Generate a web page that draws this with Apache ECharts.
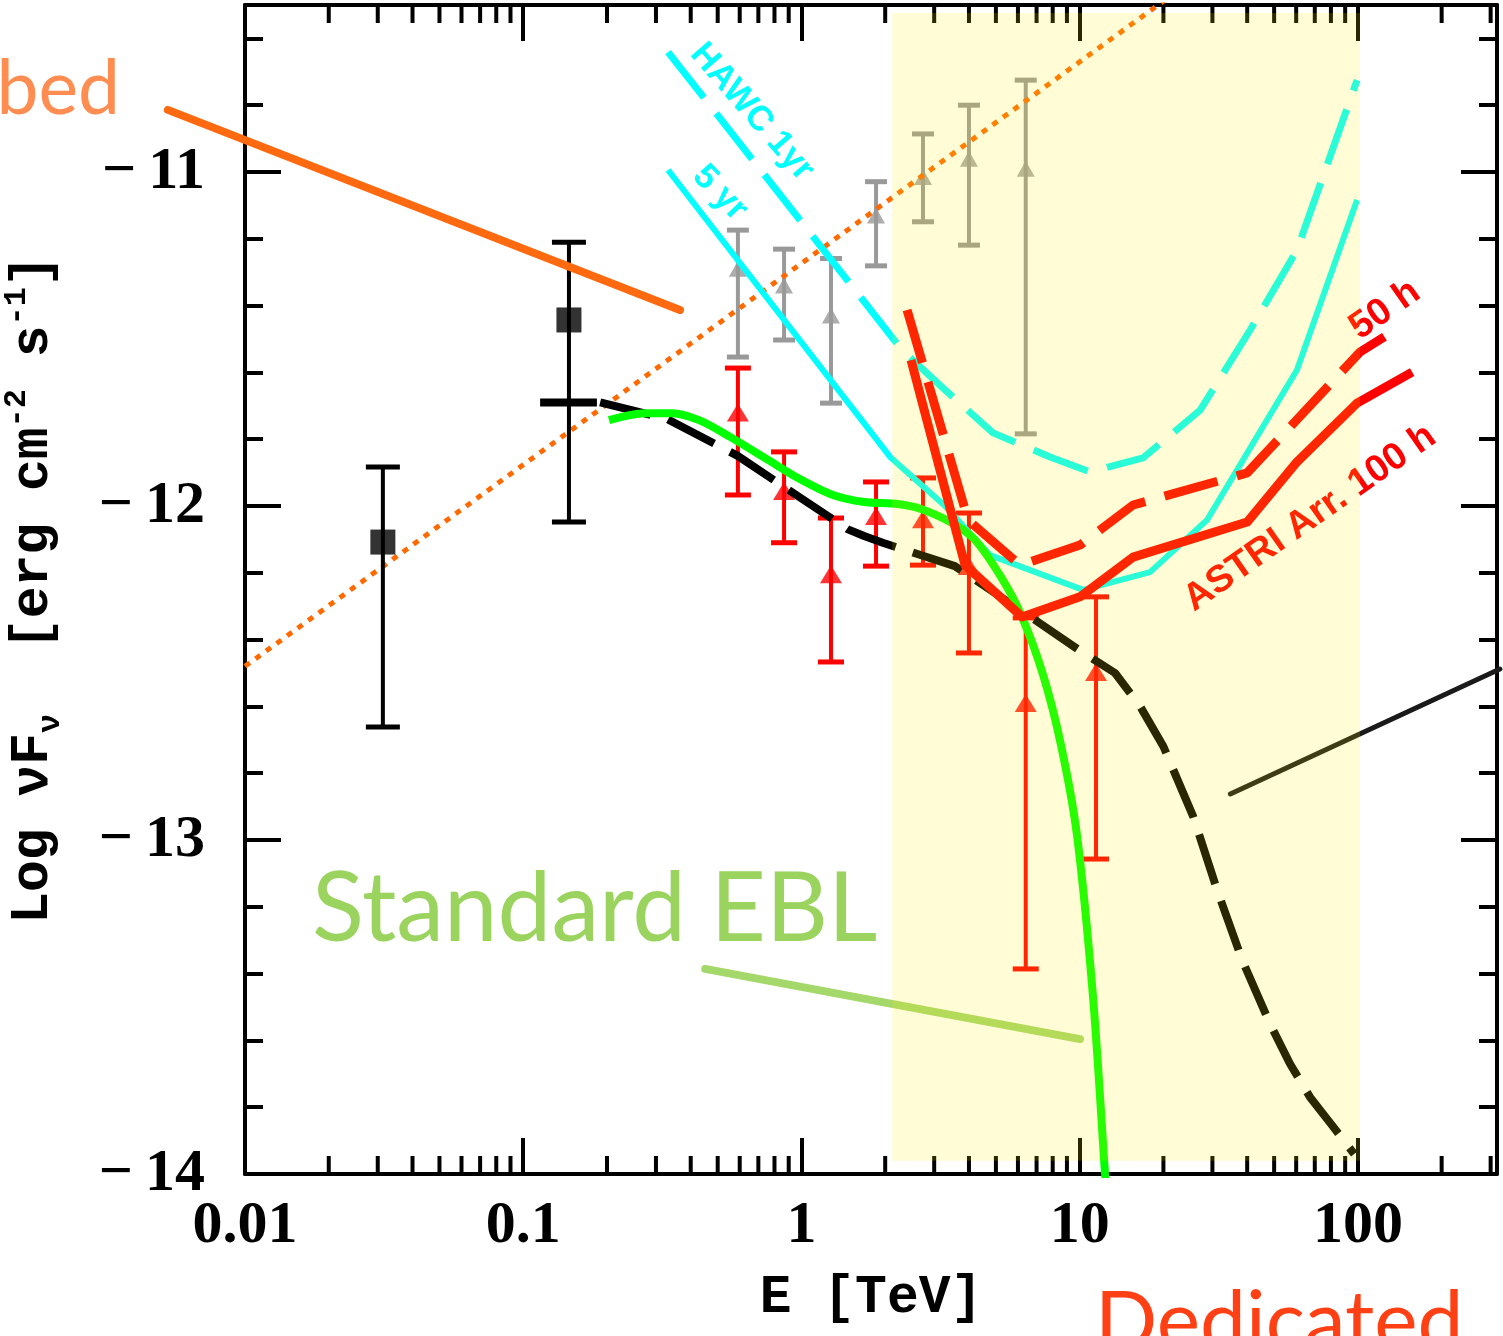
<!DOCTYPE html>
<html><head><meta charset="utf-8">
<script src="https://cdn.jsdelivr.net/npm/echarts@6/dist/echarts.min.js"></script>
<style>html,body{margin:0;padding:0;background:#fff}#c{width:1503px;height:1336px}</style>
</head><body><div id="c"></div>
<script>
// ---------- axis ranges / ticks ----------
const xMin = 0.01, xMax = 316.2278;
const yMin = -14, yMax = -10.5;
const xTickLabels = ['0.01', '0.1', '1', '10', '100'];
const xMinorMultipliers = [2, 3, 4, 5, 6, 7, 8, 9];
const xDecades = [0.01, 0.1, 1, 10, 100];

// ---------- black squares (low-energy points) ----------
const blackE  = [0.0313, 0.146];
const blackY  = [-12.108, -11.443];
const blackLo = [-12.662, -12.048];
const blackHi = [-11.883, -11.210];
const blackBinE = [0.115, 0.184];   // horizontal bar
const blackBinY = [-11.69];

// ---------- grey triangles ----------
const greyE  = [0.591, 0.866, 1.277, 1.854, 2.735, 4.0, 6.4];
const greyY  = [-11.29, -11.34, -11.43, -11.13, -11.015, -10.96, -10.99];
const greyLo = [-11.554, -11.503, -11.692, -11.281, -11.149, -11.219, -11.784];
const greyHi = [-11.174, -11.231, -11.259, -11.029, -10.886, -10.800, -10.725];

// ---------- red triangles ----------
const redE  = [0.591, 0.866, 1.277, 1.854, 2.735, 4.0, 6.4, 11.45];
const redY  = [-11.72, -11.955, -12.204, -12.03, -12.04, -12.18, -12.59, -12.497];
const redLo = [-11.967, -12.11, -12.467, -12.18, -12.177, -12.44, -13.386, -13.057];
const redHi = [-11.587, -11.838, -12.036, -11.928, -11.916, -12.021, -12.335, -12.272];

// ---------- model curves ----------
const modelE = [0.189, 0.33, 0.59, 0.97, 1.47, 1.68, 1.96, 3.56, 6.6, 9.9, 13.4, 16.5, 20, 25.6, 31.2, 38.4, 48.3, 57, 67.3, 80, 97];
const modelY = [-11.69, -11.74, -11.85, -11.97, -12.07, -12.09, -12.11, -12.18, -12.33, -12.43, -12.50, -12.60, -12.72, -12.93, -13.15, -13.36, -13.55, -13.67, -13.77, -13.85, -13.94];

const eblE = [0.2034, 0.274, 0.343, 0.4285, 0.554, 0.759, 0.972, 1.299, 1.679, 2.224, 2.69, 3.48, 4.21, 5.22, 6.16, 7.39, 8.57, 9.79, 11.17, 12.34, 12.6];
const eblY = [-11.743, -11.722, -11.722, -11.743, -11.793, -11.862, -11.916, -11.967, -11.988, -11.994, -12.009, -12.051, -12.102, -12.213, -12.326, -12.506, -12.716, -12.988, -13.47, -14.0, -14.1];

const orangeE = [0.01, 25];
const orangeY = [-12.48, -10.43];

// ---------- sensitivity curves ----------
const hawc5E = [0.3315, 2.083, 3.254, 4.76, 10.29, 17.9, 28.7, 60.4, 99.3];
const hawc5Y = [-10.994, -11.853, -11.997, -12.147, -12.251, -12.198, -12.042, -11.593, -11.084];
const hawc1E = [0.3315, 2.30, 3.23, 4.88, 7.83, 10.9, 16.9, 27.1, 41.0, 60.4, 99.3];
const hawc1Y = [-10.641, -11.533, -11.647, -11.781, -11.853, -11.898, -11.856, -11.713, -11.473, -11.234, -10.725];
const astri100E = [2.477, 3.873, 6.21, 10.03, 15.56, 40.0, 60.4, 99.3, 156.7];
const astri100Y = [-11.563, -12.177, -12.332, -12.272, -12.153, -12.048, -11.868, -11.692, -11.599];
const astri50E = [2.397, 3.97, 6.11, 10.03, 15.56, 40.0, 101.8, 132.7];
const astri50Y = [-11.413, -12.042, -12.177, -12.117, -11.997, -11.901, -11.539, -11.479];

// ---------- shaded band & pointer strokes ----------
const bandE = [2.12, 101.8];
const bandY = [-10.524, -13.96];
const ptrOrangeE = [0.00528, 0.366], ptrOrangeY = [-10.814, -11.413];
const ptrGreenE  = [0.451, 10.03],  ptrGreenY  = [-13.386, -13.596];
const ptrDarkE   = [34.8, 324],     ptrDarkY   = [-12.862, -12.488];

// ---------- build ----------
const zip = (a, b) => a.map((v, i) => [v, b[i]]);
const minorTicks = [];
xDecades.forEach(d => xMinorMultipliers.forEach(m => { const v = d * m; if (v < xMax) minorTicks.push([v, yMin]); }));

function errRender(color, capW, lw, capLw) {
  return function (params, api) {
    const x = api.value(0), lo = api.value(1), hi = api.value(2);
    const p1 = api.coord([x, lo]), p2 = api.coord([x, hi]);
    return { type: 'group', children: [
      { type: 'line', shape: { x1: p1[0], y1: p1[1], x2: p2[0], y2: p2[1] }, style: { stroke: color, lineWidth: lw } },
      { type: 'line', shape: { x1: p1[0] - capW / 2, y1: p1[1], x2: p1[0] + capW / 2, y2: p1[1] }, style: { stroke: color, lineWidth: capLw } },
      { type: 'line', shape: { x1: p2[0] - capW / 2, y1: p2[1], x2: p2[0] + capW / 2, y2: p2[1] }, style: { stroke: color, lineWidth: capLw } }
    ]};
  };
}
function strokeSeries(E, Y, color, width, z) {
  return {
    type: 'custom', z: z, silent: true, clip: false,
    data: [[E[0], Y[0], E[1], Y[1]]], encode: { x: [0, 2], y: [1, 3] },
    renderItem: (params, api) => {
      const a = api.coord([api.value(0), api.value(1)]), b = api.coord([api.value(2), api.value(3)]);
      return { type: 'line', shape: { x1: a[0], y1: a[1], x2: b[0], y2: b[1] }, style: { stroke: color, lineWidth: width, lineCap: 'round' } };
    }
  };
}

const monoFam = '"Liberation Mono", "DejaVu Sans Mono", monospace';

const baseXAxis = {
  type: 'log', logBase: 10, min: xMin, max: xMax,
  axisLine: { show: true, onZero: false, lineStyle: { color: '#000', width: 4 } },
  axisTick: { show: true, inside: true, length: 36, lineStyle: { color: '#000', width: 4 } },
  splitLine: { show: false }
};
const baseYAxis = {
  type: 'value', min: yMin, max: yMax, interval: 1,
  axisLine: { show: true, onZero: false, lineStyle: { color: '#000', width: 4 } },
  axisTick: { show: true, inside: true, length: 36, lineStyle: { color: '#000', width: 4 } },
  minorTick: { show: true, splitNumber: 5, length: 18, lineStyle: { color: '#000', width: 4 } },
  splitLine: { show: false }
};

const option = {
  animation: false,
  backgroundColor: '#fff',
  grid: { left: 245, right: 6, top: 5, bottom: 162, containLabel: false, outerBoundsMode: 'none' },
  xAxis: [
    Object.assign({}, baseXAxis, {
      position: 'bottom',
      axisLabel: { show: true, margin: 22, color: '#000', fontFamily: '"Liberation Serif"', fontWeight: 'bold', fontSize: 60,
        showMaxLabel: false,
        formatter: v => { const i = xDecades.findIndex(d => Math.abs(Math.log10(d) - Math.log10(v)) < 1e-6); return i >= 0 ? xTickLabels[i] : ''; } },
      name: 'E [TeV]', nameLocation: 'middle', nameGap: 98,
      nameTextStyle: { fontFamily: monoFam, fontWeight: 'bold', fontSize: 53, color: '#000', verticalAlign: 'top' }
    }),
    Object.assign({}, baseXAxis, { position: 'top', axisLabel: { show: false } })
  ],
  yAxis: [
    Object.assign({}, baseYAxis, {
      position: 'left',
      axisLabel: { show: true, margin: 40, color: '#000', fontFamily: '"Liberation Serif"', fontWeight: 'bold', fontSize: 60,
        showMaxLabel: false,
        formatter: v => (Math.abs(v - Math.round(v)) < 1e-6 ? '\u2212\u2009' + Math.abs(Math.round(v)) : '') },
      name: '{a|Log }{a|\u03bdF}{sub|\u03bd}{a|  [erg cm}{sup|-2}{a| s}{sup|-1}{a|]}',
      nameLocation: 'middle', nameGap: 178, nameRotate: 90,
      nameTextStyle: {
        color: '#000',
        rich: {
          a: { fontFamily: monoFam, fontWeight: 'bold', fontSize: 53, lineHeight: 66, color: '#000' },
          sup: { fontFamily: monoFam, fontWeight: 'bold', fontSize: 32, lineHeight: 66, verticalAlign: 'top', padding: [0, 0, 22, 0], color: '#000' },
          sub: { fontFamily: monoFam, fontWeight: 'bold', fontSize: 32, lineHeight: 66, verticalAlign: 'bottom', padding: [14, 0, 0, 0], color: '#000' }
        }
      }
    }),
    Object.assign({}, baseYAxis, { position: 'right', axisLabel: { show: false } })
  ],
  graphic: [
    { type: 'text', x: 120, y: 90, z: 5, style: { text: 'Absorbed', font: '75px Lato', fill: '#FF8C50', align: 'right', verticalAlign: 'middle', textAlign: 'right', textVerticalAlign: 'middle' } },
    { type: 'text', x: 312, y: 910, z: 5, style: { text: 'Standard EBL', font: '96px Lato', fill: '#9BD35F', align: 'left', verticalAlign: 'middle', textAlign: 'left', textVerticalAlign: 'middle' } },
    { type: 'text', x: 1095, y: 1282, z: 5, style: { text: 'Dedicated', font: '82px Lato', fill: '#FF4015', align: 'left', verticalAlign: 'top', textAlign: 'left', textVerticalAlign: 'top' } },
    { type: 'text', x: 752, y: 112, rotation: -0.855, z: 5, style: { text: 'HAWC 1yr', font: 'bold 35px "Liberation Sans"', fill: '#00FFFF', align: 'center', verticalAlign: 'middle', textAlign: 'center', textVerticalAlign: 'middle' } },
    { type: 'text', x: 720, y: 193, rotation: -0.80, z: 5, style: { text: '5 yr', font: 'bold 35px "Liberation Sans"', fill: '#00FFFF', align: 'center', verticalAlign: 'middle', textAlign: 'center', textVerticalAlign: 'middle' } },
    { type: 'text', x: 1310, y: 518, rotation: 0.61, z: 5, style: { text: 'ASTRI Arr. 100 h', font: 'bold 38px "Liberation Sans"', fill: '#FF0000', align: 'center', verticalAlign: 'middle', textAlign: 'center', textVerticalAlign: 'middle' } },
    { type: 'text', x: 1385, y: 310, rotation: 0.61, z: 5, style: { text: '50 h', font: 'bold 38px "Liberation Sans"', fill: '#FF0000', align: 'center', verticalAlign: 'middle', textAlign: 'center', textVerticalAlign: 'middle' } }
  ],
  series: [
    { // minor log ticks on bottom & top
      type: 'custom', z: 3, silent: true, clip: false,
      data: minorTicks, encode: { x: 0, y: 1 },
      renderItem: (params, api) => {
        const b = api.coord([api.value(0), yMin]), t = api.coord([api.value(0), yMax]);
        return { type: 'group', children: [
          { type: 'line', shape: { x1: b[0], y1: b[1], x2: b[0], y2: b[1] - 18 }, style: { stroke: '#000', lineWidth: 4 } },
          { type: 'line', shape: { x1: t[0], y1: t[1], x2: t[0], y2: t[1] + 18 }, style: { stroke: '#000', lineWidth: 4 } }
        ]};
      }
    },
    { type: 'custom', z: 2, silent: true, data: zip(greyE, greyLo).map((p, i) => [p[0], p[1], greyHi[i]]), encode: { x: 0, y: [1, 2] }, renderItem: errRender('#999999', 22, 4, 5) },
    { type: 'scatter', z: 2, silent: true, data: zip(greyE, greyY), symbol: 'triangle', symbolSize: [18, 16], itemStyle: { color: '#999999' } },
    { type: 'custom', z: 2, silent: true, data: zip(redE, redLo).map((p, i) => [p[0], p[1], redHi[i]]), encode: { x: 0, y: [1, 2] }, renderItem: errRender('#FF0000', 26, 4, 5) },
    { type: 'scatter', z: 2, silent: true, data: zip(redE, redY), symbol: 'triangle', symbolSize: [22, 18], itemStyle: { color: '#FF0000' } },
    { type: 'line', z: 3, silent: true, data: zip(orangeE, orangeY), showSymbol: false, lineStyle: { color: '#FF6A00', width: 5, type: [6, 7] } },
    { type: 'custom', z: 4, silent: true, data: zip(blackE, blackLo).map((p, i) => [p[0], p[1], blackHi[i]]), encode: { x: 0, y: [1, 2] }, renderItem: errRender('#000000', 34, 4, 5) },
    { type: 'custom', z: 4, silent: true, data: [[blackBinE[0], blackBinY[0], blackBinE[1]]], encode: { x: [0, 2], y: 1 },
      renderItem: (params, api) => {
        const a = api.coord([api.value(0), api.value(1)]), b = api.coord([api.value(2), api.value(1)]);
        return { type: 'line', shape: { x1: a[0], y1: a[1], x2: b[0], y2: b[1] }, style: { stroke: '#000', lineWidth: 8 } };
      } },
    { type: 'scatter', z: 4, silent: true, data: zip(blackE, blackY), symbol: 'rect', symbolSize: 25, itemStyle: { color: '#000' } },
    { type: 'line', z: 3, silent: true, data: zip(hawc5E, hawc5Y), showSymbol: false, lineStyle: { color: '#00FFFF', width: 6 } },
    { type: 'line', z: 3, silent: true, data: zip(hawc1E, hawc1Y), showSymbol: false, lineStyle: { color: '#00FFFF', width: 7, type: [58, 20] } },
    { type: 'line', z: 3, silent: true, data: zip(modelE, modelY), showSymbol: false, lineStyle: { color: '#000', width: 8, type: [52, 18] } },
    { type: 'line', z: 3, silent: true, data: zip(eblE, eblY), showSymbol: false, smooth: 0.3, lineStyle: { color: '#00FF00', width: 8 } },
    { type: 'line', z: 4, silent: true, data: zip(astri100E, astri100Y), showSymbol: false, lineStyle: { color: '#FF0000', width: 9, join: 'round' } },
    { type: 'line', z: 4, silent: true, data: zip(astri50E, astri50Y), showSymbol: false, lineStyle: { color: '#FF0000', width: 9, type: [55, 20] } },
    strokeSeries(ptrOrangeE, ptrOrangeY, '#FF6A10', 8, 4),
    strokeSeries(ptrGreenE, ptrGreenY, '#A5D86A', 8, 4),
    strokeSeries(ptrDarkE, ptrDarkY, '#1a1a1a', 5, 4),
    { // translucent yellow band drawn on top
      type: 'custom', z: 10, silent: true, clip: false,
      data: [[bandE[0], bandY[0], bandE[1], bandY[1]]], encode: { x: [0, 2], y: [1, 3] },
      renderItem: (params, api) => {
        const a = api.coord([api.value(0), api.value(1)]), b = api.coord([api.value(2), api.value(3)]);
        return { type: 'rect', shape: { x: a[0], y: a[1], width: b[0] - a[0], height: b[1] - a[1] }, style: { fill: 'rgba(255,236,0,0.16)' } };
      }
    }
  ]
};
const chart = echarts.init(document.getElementById('c'), null, { renderer: 'canvas' });
chart.setOption(option);
</script></body></html>
